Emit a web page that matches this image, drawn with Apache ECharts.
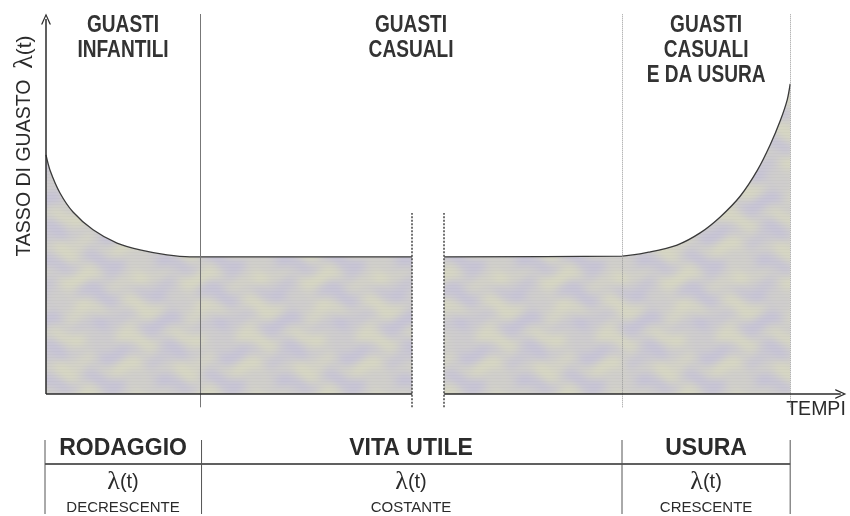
<!DOCTYPE html>
<html><head><meta charset="utf-8">
<script src="https://cdn.jsdelivr.net/npm/echarts@6/dist/echarts.min.js"></script>
<style>html,body{margin:0;padding:0;background:#fff}#c{width:850px;height:516px}</style>
</head><body><div id="c"></div>
<script>
// ---- data (time in % of life, failure rate in arbitrary units) ----
const curveT    = [0, 0.54, 1.88, 3.63, 6.32, 9.54, 12.63, 16.26, 19.35, 20.7, 49.2, null, 53.5, 77.4, 81.2, 84.8, 87.9, 90.6, 93.3, 95.6, 97.3, 98.7, 99.6, 100];
const curveRate = [62.9, 58.9, 52.9, 47.9, 43.2, 39.7, 37.9, 36.6, 36.1, 36.1, 36.1, null, 36.1, 36.3, 37.4, 39.2, 42.4, 46.6, 52.1, 58.9, 65.5, 72.1, 77.4, 81.6];
const phaseBounds = [0, 20.7, 77.4, 100];
const breakT = [49.2, 53.5];
const breakTop = 47.6;
const headerLabels = ['GUASTI\nINFANTILI', 'GUASTI\nCASUALI', 'GUASTI\nCASUALI\nE DA USURA'];
const phaseNames = ['RODAGGIO', 'VITA UTILE', 'USURA'];
const trendNames = ['DECRESCENTE', 'COSTANTE', 'CRESCENTE'];
const yName = 'TASSO DI GUASTO';
const xName = 'TEMPI';
const xMax = 107.5, xArrowEnd = 106.8, yMin = -5, yMax = 100, yArrowEnd = 98.7, lineBottom = -3.5;

const SANS = "'Liberation Sans',Arial,Helvetica,sans-serif";
const SERIF = "'Liberation Serif','DejaVu Serif',serif";
const INK = '#2b2b2b';

function makePattern() {
  const W = 120, H = 120;
  const c = document.createElement('canvas'); c.width = W; c.height = H;
  const ctx = c.getContext('2d'); const img = ctx.createImageData(W, H);
  const lav = [199, 196, 214], yel = [215, 215, 195];
  for (let y = 0; y < H; y++) for (let x = 0; x < W; x++) {
    let f = 0.5 + 0.26 * Math.sin(2 * Math.PI * (x / 60 + 0.18 * Math.sin(2 * Math.PI * y / 40)))
                + 0.2 * Math.sin(2 * Math.PI * (y / 30 + 0.15 * Math.sin(2 * Math.PI * x / 40)));
    f = Math.max(0, Math.min(1, f));
    const d = (y % 3 === 0) ? -4 : 0;
    const i = (y * W + x) * 4;
    for (let k = 0; k < 3; k++) img.data[i + k] = lav[k] + (yel[k] - lav[k]) * f + d;
    img.data[i + 3] = 255;
  }
  ctx.putImageData(img, 0, 0);
  return c;
}

const arrowPath = 'path://M0,14 L5,0 L10,14 L8.6,14 L5,3.6 L1.4,14 Z';
const curveData = curveT.map((t, i) => t === null ? [null, null] : [t, curveRate[i]]);

const markData = [];
phaseBounds.slice(1).forEach((b, i) => {
  markData.push([{coord: [b, lineBottom], lineStyle: i === 0 ? {color: '#777', width: 1, type: 'solid'} : {color: '#999', width: 1, type: 'dotted'}}, {coord: [b, yMax]}]);
});
breakT.forEach(b => {
  markData.push([{coord: [b, lineBottom], lineStyle: {color: '#444', width: 1.5, type: [2, 1.5]}}, {coord: [b, breakTop]}]);
});
// axes
markData.push([{coord: [0, 0], lineStyle: {color: INK, width: 1.5, type: 'solid'}}, {coord: [0, yArrowEnd], symbol: arrowPath, symbolSize: [10, 11]}]);
markData.push([{coord: [0, 0], lineStyle: {color: INK, width: 1.5, type: 'solid'}}, {coord: [breakT[0], 0]}]);
markData.push([{coord: [breakT[1], 0], lineStyle: {color: INK, width: 1.5, type: 'solid'}}, {coord: [xArrowEnd, 0], symbol: arrowPath, symbolSize: [10, 11]}]);

const chart = echarts.init(document.getElementById('c'), null, {renderer: 'canvas'});
chart.setOption({
  animation: false,
  grid: {left: 46, right: 850 - 846, top: 14, bottom: 516 - 413},
  xAxis: {type: 'value', min: 0, max: xMax, show: false},
  yAxis: {type: 'value', min: yMin, max: yMax, show: false},
  series: [{
    type: 'line', clip: false, data: curveData, connectNulls: false,
    smooth: 0.3, showSymbol: false, symbol: 'none',
    lineStyle: {color: '#3a3a3a', width: 1.3},
    areaStyle: {color: {image: makePattern(), repeat: 'repeat'}, opacity: 1},
    markLine: {silent: true, symbol: ['none', 'none'], label: {show: false}, animation: false, data: markData}
  }]
});

const px = (t, v) => chart.convertToPixel({gridIndex: 0}, [t, v]);
const g = [];
for (let i = 0; i < 3; i++) {
  const cx = px((phaseBounds[i] + phaseBounds[i + 1]) / 2, 0)[0];
  g.push({type: 'text', x: cx, y: 13, scaleX: 0.83, style: {text: headerLabels[i], fill: '#333', font: 'bold 23px ' + SANS, lineHeight: 25, align: 'center', verticalAlign: 'top'}});
  g.push({type: 'text', x: cx, y: 449, style: {text: phaseNames[i], fill: INK, font: 'bold 23px ' + SANS, align: 'center', verticalAlign: 'middle'}});
  g.push({type: 'text', x: cx, y: 482, style: {text: '{l|λ}{p|(t)}', align: 'center', verticalAlign: 'middle',
    rich: {l: {fontFamily: SERIF, fontSize: 26, fill: INK}, p: {fontFamily: SANS, fontSize: 20, fill: INK}}}});
  g.push({type: 'text', x: cx, y: 508, style: {text: trendNames[i], fill: INK, font: '15px ' + SANS, align: 'center', verticalAlign: 'middle'}});
}
const xl = px(0, 0)[0], xr = px(100, 0)[0];
g.push({type: 'line', shape: {x1: xl - 1, y1: 464, x2: xr, y2: 464}, style: {stroke: INK, lineWidth: 1.5}});
phaseBounds.forEach((b, i) => {
  const x = px(b, 0)[0] + (i === 0 ? -1 : (i === 1 ? 1.5 : 0));
  g.push({type: 'line', shape: {x1: x, y1: 440, x2: x, y2: 514}, style: {stroke: '#555', lineWidth: 1}});
});
g.push({type: 'text', x: 816, y: 410, style: {text: xName, fill: INK, font: '19.5px ' + SANS, align: 'center', verticalAlign: 'middle'}});
g.push({type: 'text', x: 25, y: 146, rotation: Math.PI / 2, style: {text: '{a|' + yName + '  }{l|λ}{p|(t)}', align: 'center', verticalAlign: 'middle',
  rich: {a: {fontFamily: SANS, fontSize: 19.5, fill: INK}, l: {fontFamily: SERIF, fontSize: 28, fill: INK}, p: {fontFamily: SANS, fontSize: 21, fill: INK}}}});
chart.setOption({graphic: {elements: g}});
</script>
</body></html>
